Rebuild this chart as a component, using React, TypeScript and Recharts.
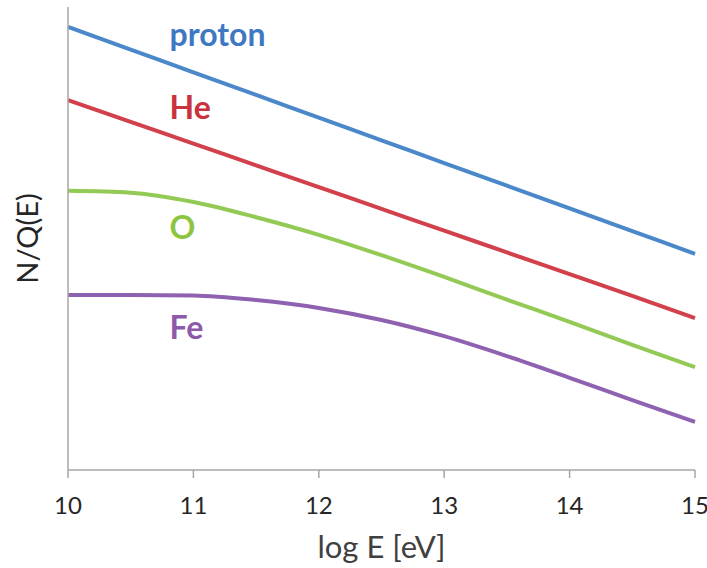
import { LineChart, Line, XAxis, YAxis, ReferenceDot } from "recharts";

// log E [eV] sample points
const logE = [10, 10.5, 11, 11.5, 12, 12.5, 13, 13.5, 14, 14.5, 15];

// N/Q(E), arbitrary units
const proton = [9.57, 9.08, 8.59, 8.1, 7.61, 7.12, 6.63, 6.14, 5.65, 5.16, 4.67];
const helium = [7.99, 7.52, 7.05, 6.58, 6.11, 5.64, 5.17, 4.7, 4.23, 3.76, 3.28];
const oxygen = [6.03, 5.99, 5.79, 5.46, 5.08, 4.64, 4.17, 3.68, 3.2, 2.7, 2.22];
const iron = [3.78, 3.78, 3.77, 3.67, 3.5, 3.24, 2.89, 2.46, 1.99, 1.51, 1.04];

const xTicks = [10, 11, 12, 13, 14, 15];

const series = [
  { key: "proton", name: "proton", color: "#4a88c9", text: "#3e78c2" },
  { key: "he", name: "He", color: "#d2414b", text: "#c9333d" },
  { key: "o", name: "O", color: "#93c955", text: "#8cc540" },
  { key: "fe", name: "Fe", color: "#8f62b1", text: "#8d5aa9" },
];

// where each species name sits (data coords)
const tagX = [10.81, 10.81, 10.81, 10.81];
const tagY = [9.4, 7.82, 5.23, 3.07];

const data = logE.map((e, i) => ({
  e,
  proton: proton[i],
  he: helium[i],
  o: oxygen[i],
  fe: iron[i],
}));

const font = "Lato, 'Open Sans', sans-serif";

const tagLabel = (text: string, color: string) => (props: any) => {
  const { viewBox } = props;
  return (
    <text
      x={viewBox.x}
      y={viewBox.y}
      dy="0.35em"
      fill={color}
      fontFamily={font}
      fontWeight={700}
      fontSize={32}
    >
      {text}
    </text>
  );
};

export default function App() {
  return (
    <div style={{ position: "absolute", left: 0, top: 0 }}>
      <LineChart
        width={707}
        height={568}
        data={data}
        margin={{ top: 7, right: 12, bottom: 0, left: 0 }}
      >
        <XAxis
          dataKey="e"
          type="number"
          domain={[10, 15]}
          ticks={xTicks}
          height={98}
          tickSize={8}
          tickMargin={19}
          stroke="#a6a6a6"
          strokeWidth={1.5}
          tick={{ fill: "#262626", fontSize: 24, fontFamily: font }}
          label={{
            value: "log E [eV]",
            position: "insideBottom",
            offset: 10,
            style: { fill: "#404040", fontSize: 31, fontFamily: font },
          }}
        />
        <YAxis
          type="number"
          domain={[0, 10]}
          width={68}
          tick={false}
          tickLine={false}
          stroke="#a6a6a6"
          strokeWidth={1.5}
          label={{
            value: "N/Q(E)",
            angle: -90,
            position: "insideLeft",
            offset: 28,
            style: {
              fill: "#262626",
              fontSize: 29,
              fontFamily: font,
              textAnchor: "middle",
            },
          }}
        />
        {series.map((s) => (
          <Line
            key={s.key}
            dataKey={s.key}
            type="monotone"
            stroke={s.color}
            strokeWidth={4}
            dot={false}
            activeDot={false}
            isAnimationActive={false}
          />
        ))}
        {series.map((s, i) => (
          <ReferenceDot
            key={`tag-${s.key}`}
            x={tagX[i]}
            y={tagY[i]}
            r={0}
            fill="none"
            stroke="none"
            label={tagLabel(s.name, s.text)}
          />
        ))}
      </LineChart>
    </div>
  );
}
